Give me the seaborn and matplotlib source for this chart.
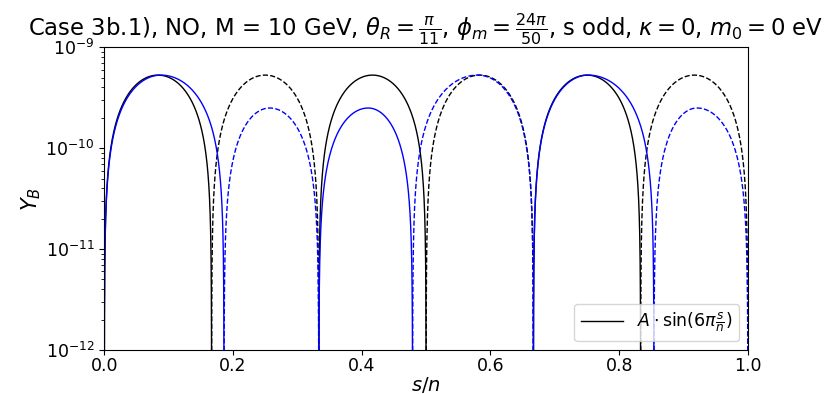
import numpy as np
import pandas as pd
import matplotlib
matplotlib.use("Agg")
import matplotlib.pyplot as plt
import seaborn as sns

# lobes: zero crossings, peak position, peak height, sign
black_zeros = [0.0, 0.1667, 0.3333, 0.5, 0.6667, 0.8333, 1.0]
black_peak_x = [0.0833, 0.25, 0.4167, 0.5833, 0.75, 0.9167]
black_peak_y = [5.3e-10, 5.3e-10, 5.3e-10, 5.3e-10, 5.3e-10, 5.3e-10]
black_sign = [1, -1, 1, -1, 1, -1]

blue_zeros = [0.0, 0.186, 0.3333, 0.479, 0.6667, 0.854, 1.0]
blue_peak_x = [0.088, 0.257, 0.41, 0.58, 0.752, 0.921]
blue_peak_y = [5.3e-10, 2.5e-10, 2.5e-10, 5.3e-10, 5.3e-10, 2.5e-10]
blue_sign = [1, -1, 1, -1, 1, -1]

title = (r"Case 3b.1), NO, M = 10 GeV, $\theta_R=\frac{\pi}{11}$, "
         r"$\phi_m=\frac{24\pi}{50}$, s odd, $\kappa=0$, $m_0=0$ eV")
legend_label = r"$A\cdot\sin(6\pi\frac{s}{n})$"


def lobe(z0, z1, px, py, n=400):
    # half-sine arch between two zeros, peak moved to px
    u = np.linspace(0, 1, n)
    x = z0 + (z1 - z0) * (1 - np.cos(np.pi * u)) / 2
    t = np.where(x < px, 0.5 * (x - z0) / (px - z0), 0.5 + 0.5 * (x - px) / (z1 - px))
    y = py * np.sin(np.pi * t)
    return x, np.clip(y, 1e-14, None)


fig = plt.figure(figsize=(8.31, 3.94), dpi=100)
ax = fig.add_axes([0.1255, 0.112, 0.7745, 0.768])
ax.set_yscale("log")

for zeros, pxs, pys, signs, col in [(black_zeros, black_peak_x, black_peak_y, black_sign, "black"),
                                     (blue_zeros, blue_peak_x, blue_peak_y, blue_sign, "blue")]:
    for i in range(len(pxs)):
        x, y = lobe(zeros[i], zeros[i + 1], pxs[i], pys[i])
        df = pd.DataFrame({"x": x, "y": y})
        ls = "-" if signs[i] > 0 else "--"
        lab = legend_label if (col == "black" and i == 0) else None
        sns.lineplot(data=df, x="x", y="y", ax=ax, color=col, linestyle=ls,
                     lw=1.0, sort=False, estimator=None, label=lab)

ax.set_xlim(0, 1)
ax.set_ylim(1e-12, 1e-9)
ax.set_xlabel("$s/n$", fontsize=14, labelpad=0)
ax.set_ylabel("$Y_B$", fontsize=15, labelpad=2)
ax.tick_params(labelsize=12.5)
ax.tick_params(axis="x", pad=1.5)
ax.set_title(title, fontsize=16.4)
ax.legend(loc="lower right", fontsize=12.5, handlelength=2.4)

fig.savefig("out.png", dpi=100)
